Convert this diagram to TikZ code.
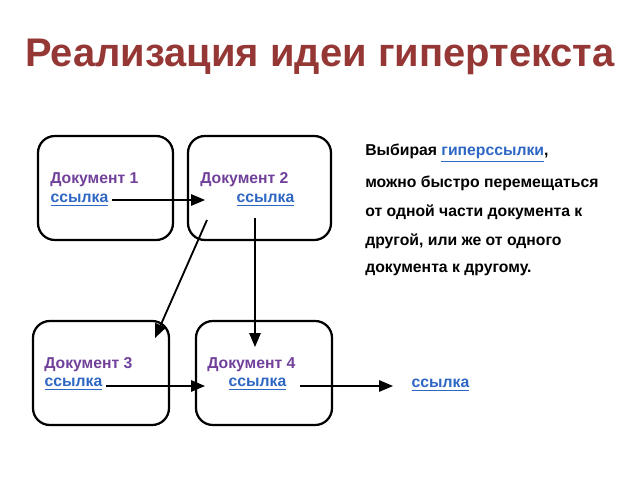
\documentclass[tikz,border=0pt]{standalone}
\usepackage{fontspec}
\setmainfont{Liberation Sans}
\usetikzlibrary{arrows,positioning}
\definecolor{titlered}{HTML}{953735}
\definecolor{docpurple}{HTML}{70409A}
\definecolor{linkblue}{HTML}{2E66C4}
\tikzset{
  docbox/.style={draw, line width=1.6pt, rounded corners=12pt},
  doclabel/.style={anchor=west, text=docpurple, font=\bfseries\fontsize{11.2}{13}\selectfont, inner sep=0pt},
  linklabel/.style={anchor=west, text=linkblue, font=\bfseries\fontsize{11.2}{13}\selectfont, inner sep=1pt},
  jump/.style={-triangle 45, line width=1.3pt},
  prose/.style={anchor=west, font=\bfseries\fontsize{11.2}{13}\selectfont, inner sep=0pt}
}
\newcommand{\lnk}[1]{\underline{#1}}
\begin{document}
\begin{tikzpicture}[x=0.025cm, y=-0.025cm]
\useasboundingbox (0,0) rectangle (640,480);
% title
\node[text=titlered, font=\bfseries\fontsize{28.4}{32}\selectfont] (title) at (320,57) {Реализация идеи гипертекста};

% boxes
\draw[docbox] (38,136) rectangle (173,240);
\draw[docbox] (188,136) rectangle (331,240);
\draw[docbox] (33,321) rectangle (169,425);
\draw[docbox] (196,321) rectangle (332,425);

% labels and links
\node[doclabel] (d1) at (50,180) {Документ 1};
\node[linklabel] (l1) at (49,200) {\lnk{ссылка}};
\node[doclabel] (d2) at (200,180) {Документ 2};
\node[linklabel] (l2) at (235,200) {\lnk{ссылка}};
\node[doclabel] (d3) at (44,365) {Документ 3};
\node[linklabel] (l3) at (43,384) {\lnk{ссылка}};
\node[doclabel] (d4) at (207,365) {Документ 4};
\node[linklabel] (l4) at (227,384) {\lnk{ссылка}};
\node[linklabel] (l5) at (410,385) {\lnk{ссылка}};

\coordinate (t1) at (205,200);
\coordinate (s2) at (207,220);
\coordinate (t2) at (155,338);
\coordinate (s3) at (255,218);
\coordinate (t3) at (255,347);
\coordinate (t4) at (205,386);
\coordinate (t5) at (393,386);

% jumps
\draw[jump] (l1.east |- t1) ++(2,0) coordinate (a1) -- (t1);
\draw[jump] (s2) -- (t2);
\draw[jump] (s3) -- (t3);
\draw[jump] (l3.east |- t4) ++(2,0) coordinate (a3) -- (t4);
\draw[jump] (l4.east |- t5) ++(12,0) coordinate (a4) -- (t5);

% right text
\node[prose] (p1) at (365,153) {Выбирая {\color{linkblue}\lnk{гиперссылки}},};
\node[prose] (p2) at (365,183) {можно быстро перемещаться};
\node[prose] (p3) at (365,212) {от одной части документа к};
\node[prose] (p4) at (365,241) {другой, или же от одного};
\node[prose] (p5) at (365,270) {документа к другому.};
\end{tikzpicture}
\end{document}
